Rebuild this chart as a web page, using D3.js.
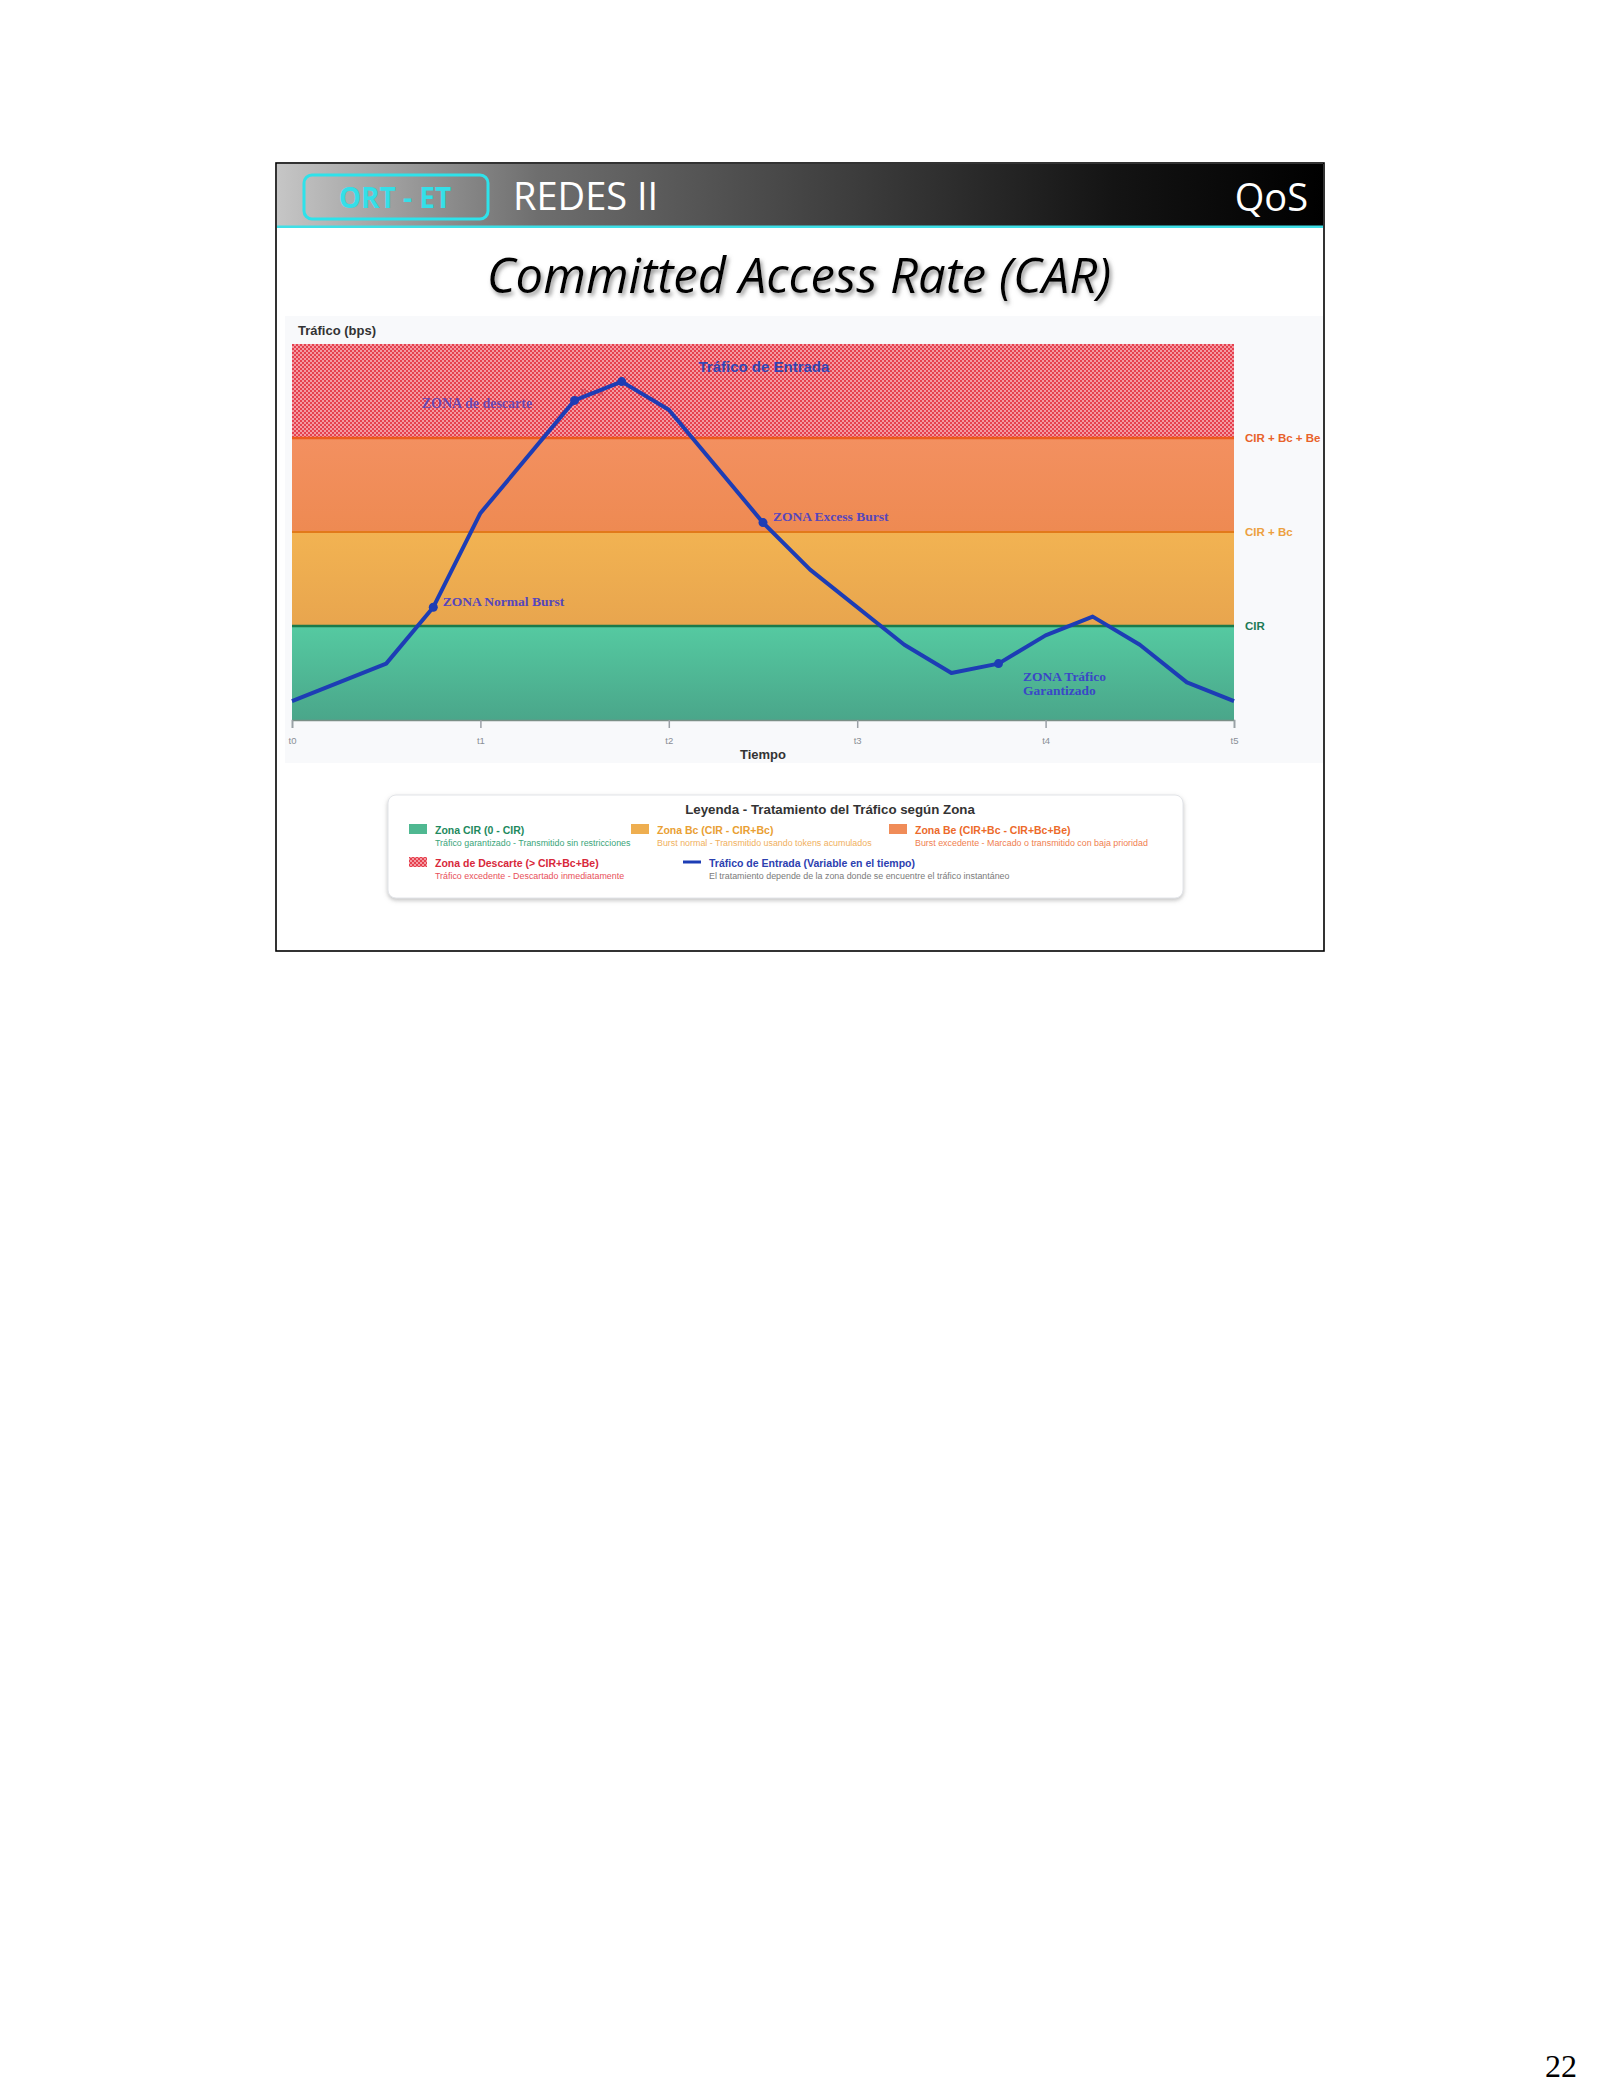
<!DOCTYPE html>
<html>
<head>
<meta charset="utf-8">
<title>Committed Access Rate (CAR)</title>
<script src="https://cdn.jsdelivr.net/npm/d3@7"></script>
<style>
  body { margin: 0; background: #fff; }
  svg { display: block; }
</style>
</head>
<body>
<div id="canvas"></div>
<script>
// time axis
var timeTicks = ["t0", "t1", "t2", "t3", "t4", "t5"];

// incoming traffic (time in t units, level in zone units)
var trafficTime = [0, 0.5, 0.75, 1, 1.5, 1.75, 2, 2.5, 2.75, 3.25, 3.5, 3.75, 4, 4.25, 4.5, 4.75, 5];
var trafficLevel = [0.2, 0.6, 1.2, 2.2, 3.4, 3.6, 3.3, 2.1, 1.6, 0.8, 0.5, 0.6, 0.9, 1.1, 0.8, 0.4, 0.2];
var markedTimes = [0.75, 1.5, 1.75, 2.5, 3.75];

// zones, bottom to top
var zoneNames = ["CIR", "Bc", "Be", "Descarte"];
var zoneFrom = [0, 1, 2, 3];
var zoneTo = [1, 2, 3, 4];
var thresholdLabels = ["CIR", "CIR + Bc", "CIR + Bc + Be"];
var thresholdLevels = [1, 2, 3];

// text notes inside the chart
var noteTexts = ["ZONA de descarte", "Burst", "ZONA Normal Burst", "ZONA Excess Burst"];
var noteTime = [0.69, 1.53, 0.8, 2.553];
var noteLevel = [3.32, 3.45, 1.21, 2.115];

// legend
var legendTitles = ["Zona CIR (0 - CIR)", "Zona Bc (CIR - CIR+Bc)", "Zona Be (CIR+Bc - CIR+Bc+Be)",
  "Zona de Descarte (> CIR+Bc+Be)", "Tráfico de Entrada (Variable en el tiempo)"];
var legendTexts = ["Tráfico garantizado - Transmitido sin restricciones",
  "Burst normal - Transmitido usando tokens acumulados",
  "Burst excedente - Marcado o transmitido con baja prioridad",
  "Tráfico excedente - Descartado inmediatamente",
  "El tratamiento depende de la zona donde se encuentre el tráfico instantáneo"];

var W = 1600, H = 2100;

var svg = d3.select("#canvas").append("svg")
  .attr("width", W).attr("height", H)
  .style("font-family", "'Liberation Sans', Arial, sans-serif");

var defs = svg.append("defs");

// header gradient
var hg = defs.append("linearGradient").attr("id", "hdr");
[[0, "#c6c6c6"], [0.25, "#6e6e6e"], [0.5, "#454545"], [0.8, "#141414"], [1, "#000"]].forEach(function (s) {
  hg.append("stop").attr("offset", s[0]).attr("stop-color", s[1]);
});

// zone fills
var zoneTop = ["#55caa1", "#f2b352", "#f39060", null];
var zoneBottom = ["#4aa68a", "#e8a54e", "#ee8a52", null];
zoneNames.forEach(function (z, i) {
  if (!zoneTop[i]) return;
  var g = defs.append("linearGradient").attr("id", "zg" + i)
    .attr("x1", 0).attr("y1", 0).attr("x2", 0).attr("y2", 1);
  g.append("stop").attr("offset", 0).attr("stop-color", zoneTop[i]);
  g.append("stop").attr("offset", 1).attr("stop-color", zoneBottom[i]);
});

var pat = defs.append("pattern").attr("id", "checker")
  .attr("width", 4).attr("height", 4).attr("patternUnits", "userSpaceOnUse");
pat.append("rect").attr("width", 4).attr("height", 4).attr("fill", "#f39aa2");
pat.append("rect").attr("width", 2).attr("height", 2).attr("fill", "#e6404e");
pat.append("rect").attr("x", 2).attr("y", 2).attr("width", 2).attr("height", 2).attr("fill", "#e6404e");

var sh = defs.append("filter").attr("id", "tshadow").attr("x", "-5%").attr("y", "-20%").attr("width", "110%").attr("height", "150%");
sh.append("feDropShadow").attr("dx", 2).attr("dy", 3).attr("stdDeviation", 2).attr("flood-color", "#777").attr("flood-opacity", 0.8);

var bs = defs.append("filter").attr("id", "boxshadow").attr("x", "-5%").attr("y", "-20%").attr("width", "110%").attr("height", "150%");
bs.append("feDropShadow").attr("dx", 0).attr("dy", 2).attr("stdDeviation", 2).attr("flood-color", "#999").attr("flood-opacity", 0.6);

// slide frame + header
svg.append("rect").attr("x", 276).attr("y", 163).attr("width", 1048).attr("height", 788)
  .attr("fill", "#fff").attr("stroke", "#000").attr("stroke-width", 1.6);
svg.append("rect").attr("x", 277).attr("y", 164).attr("width", 1046).attr("height", 62).attr("fill", "url(#hdr)");
svg.append("rect").attr("x", 277).attr("y", 225.5).attr("width", 1046).attr("height", 2.5).attr("fill", "#3fe0e8");

svg.append("rect").attr("x", 304).attr("y", 175).attr("width", 184).attr("height", 44).attr("rx", 8)
  .attr("fill", "none").attr("stroke", "#2ee2ea").attr("stroke-width", 3);
svg.append("text").attr("x", 395).attr("y", 208).attr("text-anchor", "middle")
  .style("font-family", "'Open Sans', sans-serif").style("font-weight", "bold").style("font-size", "28px")
  .attr("fill", "#34dfe8").text("ORT - ET");
svg.append("text").attr("x", 513).attr("y", 210)
  .style("font-family", "'Open Sans', sans-serif").style("font-size", "38px")
  .attr("fill", "#fff").text("REDES II");
svg.append("text").attr("x", 1308).attr("y", 211).attr("text-anchor", "end")
  .style("font-family", "'Open Sans', sans-serif").style("font-size", "38px")
  .attr("fill", "#fff").text("QoS");

svg.append("text").attr("x", 799).attr("y", 293).attr("text-anchor", "middle")
  .style("font-family", "'Open Sans', sans-serif").style("font-style", "italic").style("font-size", "49px")
  .attr("fill", "#000").attr("filter", "url(#tshadow)").text("Committed Access Rate (CAR)");

// chart container
svg.append("rect").attr("x", 285).attr("y", 316).attr("width", 1038).attr("height", 447).attr("fill", "#f8f9fb");

var x = d3.scaleLinear().domain([0, 5]).range([292, 1234]);
var y = d3.scaleLinear().domain([0, 4]).range([720, 344]);

var plot = svg.append("g");

plot.selectAll("rect.zone").data(zoneNames).enter().append("rect")
  .attr("class", "zone")
  .attr("x", x(0)).attr("width", x(5) - x(0))
  .attr("y", function (d, i) { return y(zoneTo[i]); })
  .attr("height", function (d, i) { return y(zoneFrom[i]) - y(zoneTo[i]); })
  .attr("fill", function (d, i) { return zoneTop[i] ? "url(#zg" + i + ")" : "url(#checker)"; });

var lineColors = ["#1b7a4a", "#e27a1a", "#ec5a1c"];
var labelColors = ["#1d7a55", "#eca040", "#e8622a"];
plot.selectAll("line.thr").data(thresholdLevels).enter().append("line")
  .attr("x1", x(0)).attr("x2", x(5))
  .attr("y1", function (d) { return y(d); }).attr("y2", function (d) { return y(d); })
  .attr("stroke", function (d, i) { return lineColors[i]; })
  .attr("stroke-width", function (d, i) { return i == 1 ? 2 : 2.6; });

plot.selectAll("text.thr").data(thresholdLabels).enter().append("text")
  .attr("x", 1245).attr("y", function (d, i) { return y(thresholdLevels[i]) + 4; })
  .style("font-weight", "bold").style("font-size", "11.5px")
  .attr("fill", function (d, i) { return labelColors[i]; })
  .text(function (d) { return d; });

// x axis
var xAxis = d3.axisBottom(x).tickValues(d3.range(timeTicks.length))
  .tickFormat(function (d, i) { return timeTicks[i]; })
  .tickSize(8).tickPadding(9);
var ax = svg.append("g").attr("transform", "translate(0,720)").call(xAxis);
ax.select(".domain").attr("stroke", "#7a8f86").attr("stroke-width", 1.5);
ax.selectAll(".tick line").attr("stroke", "#9aa0a6").attr("stroke-width", 1.5);
ax.selectAll(".tick text").attr("fill", "#8a8f96").style("font-size", "9.5px");

svg.append("text").attr("x", 298).attr("y", 335)
  .style("font-weight", "bold").style("font-size", "13px").attr("fill", "#333").text("Tráfico (bps)");
svg.append("text").attr("x", 763).attr("y", 759).attr("text-anchor", "middle")
  .style("font-weight", "bold").style("font-size", "13px").attr("fill", "#333").text("Tiempo");

// incoming traffic line
var pts = trafficTime.map(function (t, i) { return [t, trafficLevel[i]]; });
var line = d3.line().x(function (d) { return x(d[0]); }).y(function (d) { return y(d[1]); });

plot.append("text").attr("x", x(2.505)).attr("y", y(3.7)).attr("text-anchor", "middle")
  .style("font-weight", "bold").style("font-size", "15px").attr("fill", "#3246b4").text("Tráfico de Entrada");

plot.selectAll("text.note").data(noteTexts).enter().append("text")
  .attr("x", function (d, i) { return x(noteTime[i]); })
  .attr("y", function (d, i) { return y(noteLevel[i]); })
  .style("font-family", "'Liberation Serif', serif").style("font-weight", "bold")
  .style("font-size", function (d, i) { return i == 1 ? "10px" : (i == 0 ? "14px" : "13.5px"); })
  .attr("fill", function (d, i) { return i == 1 ? "#b8304c" : "#5646bd"; })
  .attr("opacity", function (d, i) { return i == 0 ? 0.9 : (i == 1 ? 0.55 : 1); })
  .text(function (d) { return d; });

var gar = plot.append("text").attr("x", x(3.88)).attr("y", y(0.414))
  .style("font-family", "'Liberation Serif', serif").style("font-weight", "bold").style("font-size", "13.5px")
  .attr("fill", "#3a48c6");
gar.append("tspan").text("ZONA Tráfico");
gar.append("tspan").attr("x", x(3.88)).attr("dy", 14).text("Garantizado");

plot.append("path").datum(pts).attr("d", line)
  .attr("fill", "none").attr("stroke", "#1d3db5").attr("stroke-width", 4)
  .attr("stroke-linejoin", "round");

plot.selectAll("circle.mk").data(pts.filter(function (p) { return markedTimes.indexOf(p[0]) >= 0; }))
  .enter().append("circle")
  .attr("cx", function (d) { return x(d[0]); }).attr("cy", function (d) { return y(d[1]); })
  .attr("r", 4.5).attr("fill", "#1d3db5");

// legend box
var lg = svg.append("g");
lg.append("rect").attr("x", 388).attr("y", 795).attr("width", 795).attr("height", 103).attr("rx", 8)
  .attr("fill", "#fff").attr("stroke", "#e2e4e8").attr("filter", "url(#boxshadow)");
lg.append("text").attr("x", 830).attr("y", 814).attr("text-anchor", "middle")
  .style("font-weight", "bold").style("font-size", "13.3px").attr("fill", "#333")
  .text("Leyenda - Tratamiento del Tráfico según Zona");

var itemX = [409, 631, 889, 409, 683];
var itemRow = [0, 0, 0, 1, 1];
var titleColors = ["#1e8a5e", "#e9a033", "#ec6a2a", "#d8283a", "#2c40b0"];
var textColors = ["#3aa57a", "#f0b060", "#f08050", "#e8505a", "#7a7a7a"];
var swatchFill = ["#4fb891", "#eeae50", "#f08c58", "url(#checker)", null];

legendTitles.forEach(function (t, i) {
  var gx = itemX[i], gy = 834 + itemRow[i] * 33;
  if (swatchFill[i]) {
    lg.append("rect").attr("x", gx).attr("y", gy - 10).attr("width", 18).attr("height", 10).attr("fill", swatchFill[i]);
  } else {
    lg.append("line").attr("x1", gx).attr("x2", gx + 18).attr("y1", gy - 5).attr("y2", gy - 5)
      .attr("stroke", "#1d3db5").attr("stroke-width", 3);
  }
  var tx = gx + 26;
  lg.append("text").attr("x", tx).attr("y", gy)
    .style("font-weight", "bold").style("font-size", "10.5px").attr("fill", titleColors[i]).text(t);
  lg.append("text").attr("x", tx).attr("y", gy + 12)
    .style("font-size", "8.9px").attr("fill", textColors[i]).text(legendTexts[i]);
});

// page number
svg.append("text").attr("x", 1577).attr("y", 2077).attr("text-anchor", "end")
  .style("font-family", "'Liberation Serif', 'Times New Roman', serif").style("font-size", "32px")
  .attr("fill", "#000").text("22");
</script>
</body>
</html>
